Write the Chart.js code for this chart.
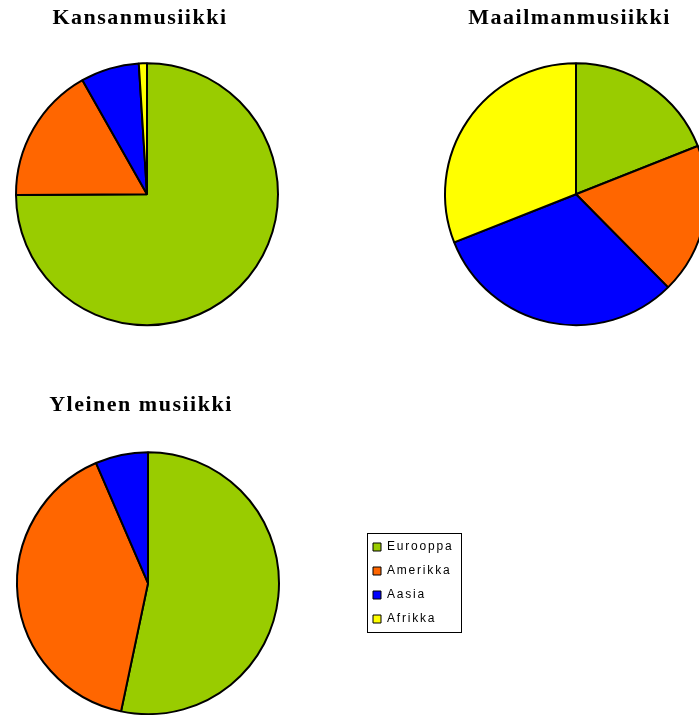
<!DOCTYPE html>
<html>
<head>
<meta charset="utf-8">
<script src="https://cdn.jsdelivr.net/npm/chart.js"></script>
<style>
  body { margin: 0; width: 699px; height: 715px; overflow: hidden; position: relative; background: #fff; }
  canvas { position: absolute; }
</style>
</head>
<body>
<canvas id="kansan" width="294" height="347" style="left:0px;top:0px"></canvas>
<canvas id="maailman" width="294" height="347" style="left:429px;top:0px"></canvas>
<canvas id="yleinen" width="294" height="347" style="left:1px;top:389px"></canvas>
<canvas id="selite" width="95" height="100" style="left:367px;top:533px"></canvas>
<script>
// maanosat ja osuudet (%) luettu kuvasta
const categories = ['Eurooppa', 'Amerikka', 'Aasia', 'Afrikka'];
const kansanmusiikki = [74.9, 16.9, 7.2, 1.0];
const maailmanmusiikki = [19.0, 18.6, 31.4, 31.0];
const yleinenMusiikki = [53.3, 40.2, 6.5, 0];
const sliceColors = ['#99CC00', '#FF6600', '#0000FF', '#FFFF00'];

const serifFont = "'Liberation Serif', 'Times New Roman', serif";
const sansFont = "'Liberation Sans', Arial, sans-serif";

// harvennettu teksti kuten alkuperäisessä (myös mittaukseen)
const textSpacing = {
  id: 'textSpacing',
  beforeLayout(chart, args, opts) {
    chart.ctx.letterSpacing = (opts.px || 0) + 'px';
  },
  beforeDraw(chart, args, opts) {
    chart.ctx.letterSpacing = (opts.px || 0) + 'px';
  }
};

// otsikko hieman vasemmalle piirakan keskeltä
const titleShift = {
  id: 'titleShift',
  afterLayout(chart, args, opts) {
    const t = chart.titleBlock;
    if (t && opts.dx) {
      t.left += opts.dx;
      t.right += opts.dx;
    }
  }
};

// selitteen kehys
const legendFrame = {
  id: 'legendFrame',
  afterDraw(chart) {
    const ctx = chart.ctx;
    ctx.save();
    ctx.strokeStyle = '#000';
    ctx.lineWidth = 1;
    ctx.strokeRect(0.5, 0.5, chart.width - 1, chart.height - 1);
    ctx.restore();
  }
};

function drawPie(id, title, values, titleDx, titlePad) {
  new Chart(document.getElementById(id), {
    type: 'pie',
    data: {
      labels: categories,
      datasets: [{
        data: values,
        backgroundColor: sliceColors,
        borderColor: '#000',
        borderWidth: 2,
        radius: 131
      }]
    },
    options: {
      responsive: false,
      animation: false,
      events: [],
      plugins: {
        legend: { display: false },
        tooltip: { enabled: false },
        title: {
          display: true,
          text: title,
          color: '#000',
          font: { family: serifFont, size: 22, weight: 'bold', lineHeight: 1.2 },
          padding: titlePad
        },
        titleShift: { dx: titleDx },
        textSpacing: { px: 1.5 }
      }
    },
    plugins: [titleShift, textSpacing]
  });
}

drawPie('kansan', 'Kansanmusiikki', kansanmusiikki, -7, { top: 5, bottom: 10 });
drawPie('maailman', 'Maailmanmusiikki', maailmanmusiikki, -6.5, { top: 5, bottom: 10 });
drawPie('yleinen', 'Yleinen musiikki', yleinenMusiikki, -7, { top: 3, bottom: 12 });

// erillinen selite, piirakka itse ei näy (radius 0)
new Chart(document.getElementById('selite'), {
  type: 'pie',
  data: {
    labels: categories,
    datasets: [{
      data: yleinenMusiikki,
      backgroundColor: sliceColors,
      borderWidth: 0,
      radius: 0
    }]
  },
  options: {
    responsive: false,
    animation: false,
    events: [],
    layout: { padding: { top: -4, left: -6, bottom: -30 } },
    plugins: {
      tooltip: { enabled: false },
      textSpacing: { px: 1.8 },
      legend: {
        position: 'left',
        align: 'start',
        maxWidth: 200,
        labels: {
          boxWidth: 8,
          boxHeight: 8,
          padding: 12,
          color: '#000',
          font: { family: sansFont, size: 12 },
          generateLabels(chart) {
            const items = Chart.overrides.doughnut.plugins.legend.labels.generateLabels(chart);
            items.forEach(function(item) {
              item.lineWidth = 1;
              item.strokeStyle = '#000';
            });
            return items;
          }
        }
      }
    }
  },
  plugins: [legendFrame, textSpacing]
});
</script>
</body>
</html>
